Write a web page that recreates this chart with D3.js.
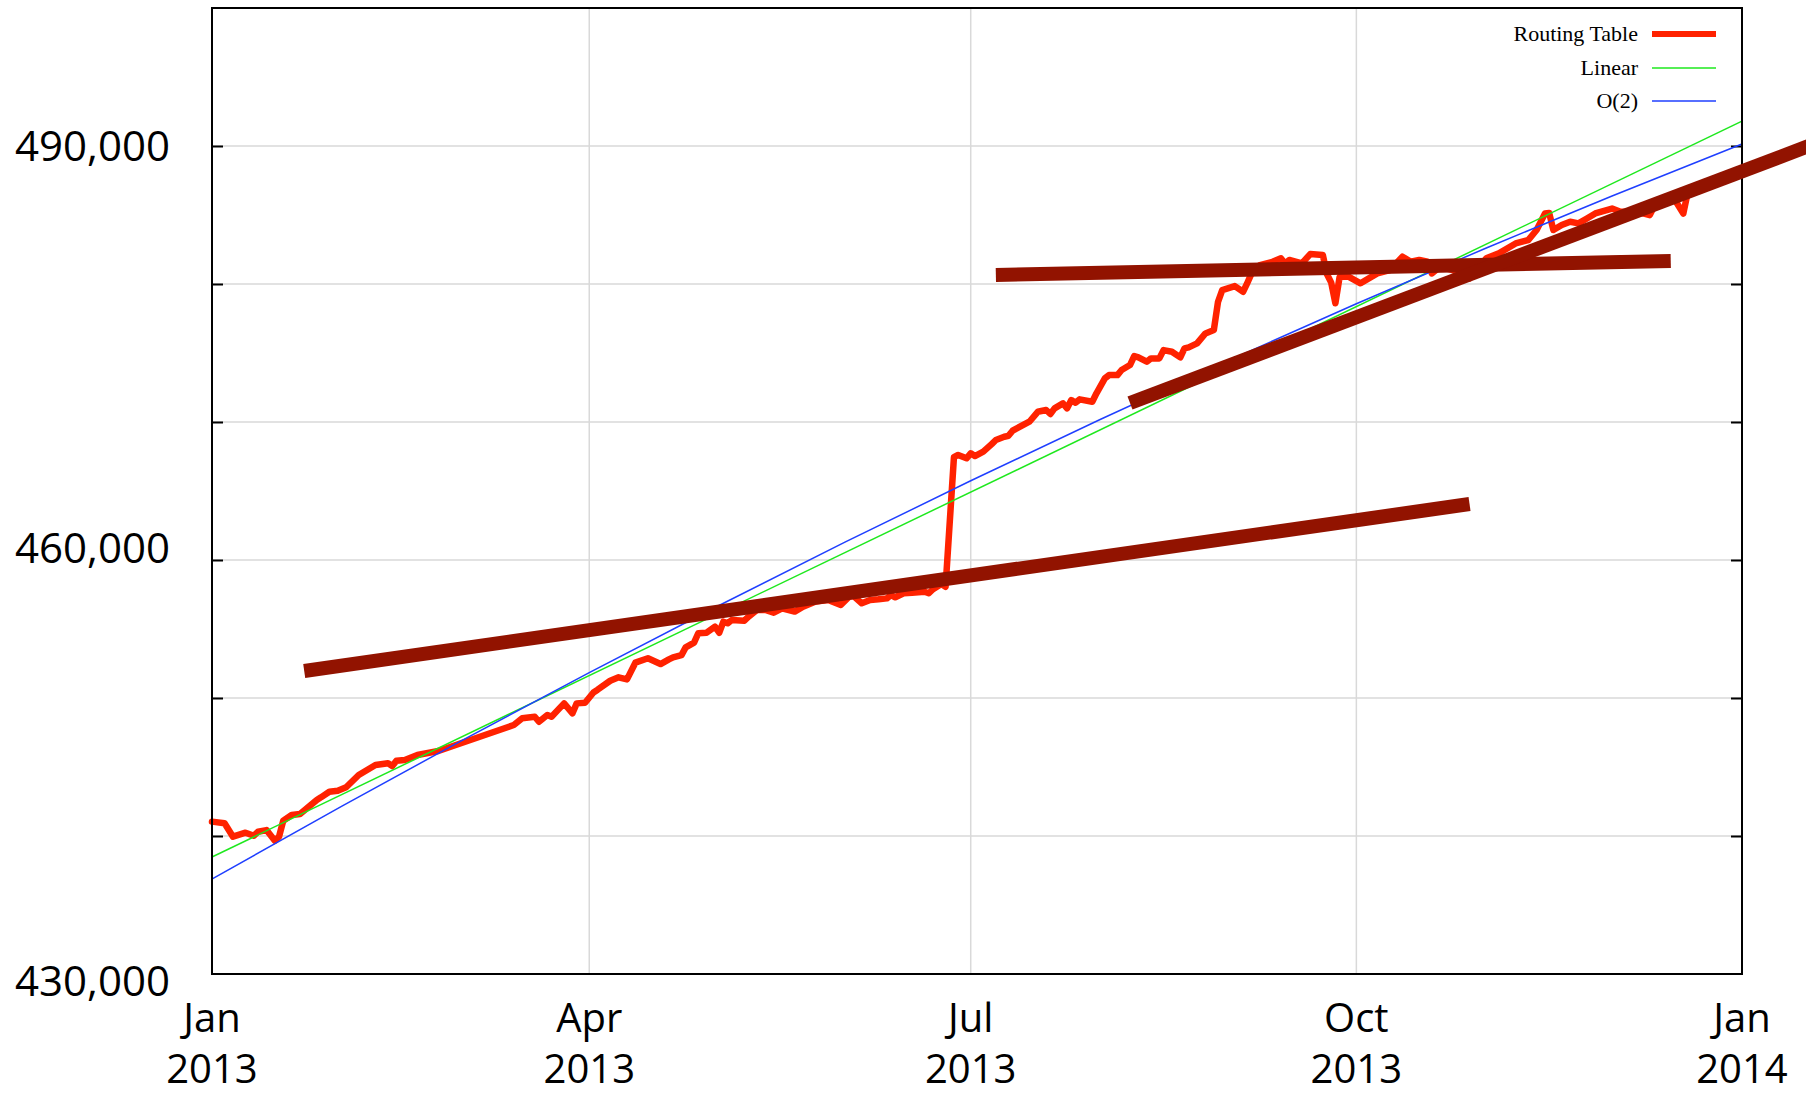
<!DOCTYPE html>
<html><head><meta charset="utf-8">
<script src="https://cdn.jsdelivr.net/npm/d3@7"></script>
<style>body{margin:0;background:#fff}svg{display:block}</style>
</head><body>
<svg id="chart" width="1806" height="1095"></svg>
<script>
// ---------- DATA ----------
const routingDates = ["2013-01-01","2013-01-04","2013-01-06","2013-01-09","2013-01-11","2013-01-12","2013-01-14","2013-01-16","2013-01-17","2013-01-18","2013-01-20","2013-01-22","2013-01-26","2013-01-27","2013-01-29","2013-01-31","2013-02-02","2013-02-05","2013-02-07","2013-02-09","2013-02-12","2013-02-13","2013-02-14","2013-02-16","2013-02-19","2013-02-24","2013-03-14","2013-03-16","2013-03-19","2013-03-20","2013-03-22","2013-03-23","2013-03-26","2013-03-28","2013-03-29","2013-03-31","2013-04-02","2013-04-03","2013-04-06","2013-04-08","2013-04-10","2013-04-12","2013-04-15","2013-04-18","2013-04-20","2013-04-21","2013-04-23","2013-04-24","2013-04-26","2013-04-27","2013-04-29","2013-05-01","2013-05-02","2013-05-03","2013-05-04","2013-05-05","2013-05-08","2013-05-09","2013-05-11","2013-05-13","2013-05-15","2013-05-17","2013-05-20","2013-05-22","2013-05-25","2013-05-28","2013-05-31","2013-06-02","2013-06-03","2013-06-05","2013-06-07","2013-06-09","2013-06-11","2013-06-12","2013-06-13","2013-06-15","2013-06-17","2013-06-20","2013-06-21","2013-06-22","2013-06-24","2013-06-25","2013-06-27","2013-06-28","2013-06-30","2013-07-01","2013-07-02","2013-07-04","2013-07-06","2013-07-07","2013-07-09","2013-07-10","2013-07-11","2013-07-12","2013-07-15","2013-07-17","2013-07-19","2013-07-20","2013-07-21","2013-07-23","2013-07-24","2013-07-25","2013-07-26","2013-07-27","2013-07-30","2013-07-31","2013-08-02","2013-08-03","2013-08-05","2013-08-06","2013-08-08","2013-08-09","2013-08-10","2013-08-12","2013-08-13","2013-08-15","2013-08-16","2013-08-18","2013-08-20","2013-08-21","2013-08-22","2013-08-24","2013-08-26","2013-08-28","2013-08-29","2013-08-30","2013-09-02","2013-09-04","2013-09-05","2013-09-06","2013-09-08","2013-09-11","2013-09-13","2013-09-14","2013-09-15","2013-09-18","2013-09-20","2013-09-23","2013-09-24","2013-09-25","2013-09-26","2013-09-27","2013-09-29","2013-10-02","2013-10-06","2013-10-09","2013-10-12","2013-10-14","2013-10-16","2013-10-18","2013-10-19","2013-10-21","2013-10-24","2013-10-28","2013-11-01","2013-11-04","2013-11-08","2013-11-11","2013-11-13","2013-11-15","2013-11-16","2013-11-17","2013-11-19","2013-11-21","2013-11-23","2013-11-25","2013-11-27","2013-12-01","2013-12-03","2013-12-07","2013-12-10","2013-12-11","2013-12-13","2013-12-16","2013-12-18","2013-12-19","2013-12-21","2013-12-24","2013-12-27","2013-12-29","2013-12-31"];
const routingValues = [441040,440920,439950,440240,440020,440310,440430,439660,439950,441110,441520,441590,442610,442800,443210,443280,443530,444420,444780,445140,445270,445070,445460,445510,445870,446160,448040,448530,448640,448280,448770,448640,449610,448890,449610,449660,450400,450600,451250,451500,451350,452560,452880,452460,452800,452950,453110,453670,454010,454690,454730,455170,454730,455530,455410,455650,455600,455890,456380,456380,456180,456500,456260,456620,457000,457100,456740,457340,457400,456860,457100,457150,457220,457460,457300,457590,457630,457700,457590,457880,458260,458060,467450,467610,467370,467730,467530,467850,468400,468700,468930,469000,469370,469540,470020,470740,470870,470580,470990,471350,470990,471590,471400,471640,471470,472080,473160,473400,473400,473770,474130,474780,474680,474370,474610,474610,475210,475090,474680,475340,475410,475700,476420,476660,478710,479560,479850,479440,480090,480770,481370,481610,481860,481490,481740,481490,482170,482100,480700,480100,478600,480500,480550,480050,480770,481010,481980,481610,481740,481610,480770,481250,481000,480410,481860,482220,482940,483180,483910,485110,485150,483910,484270,484510,484390,484750,485110,485470,485230,485230,484990,485590,485830,486080,485110,486550,486670,487100,487500,487800,488300];

const linearDates = ["2013-01-01","2014-01-01"];
const linearValues = [438480, 491800];

const quadDates = ["2013-01-01","2013-02-01","2013-03-01","2013-04-01","2013-05-01","2013-06-01","2013-07-01","2013-08-01","2013-09-01","2013-10-01","2013-11-01","2013-12-01","2014-01-01"];
const quadValues = [436880,442170,446820,451840,456560,461290,465740,470200,474520,478570,482610,486380,490150];

// hand-drawn trend strokes: start/end date and value
const trendStartDates = ["2013-01-23","2013-07-07","2013-08-08"];
const trendStartValues = [451960, 480650, 471380];
const trendEndDates = ["2013-10-28","2013-12-15","2014-01-20"];
const trendEndValues = [464060, 481670, 490350];

const yGridValues = [440000,450000,460000,470000,480000,490000];
const yLabelValues = [430000,460000,490000];
const xTickDates = ["2013-01-01","2013-04-01","2013-07-01","2013-10-01","2014-01-01"];
const xTickMonths = ["Jan","Apr","Jul","Oct","Jan"];
const xTickYears = ["2013","2013","2013","2013","2014"];
const legendNames = ["Routing Table","Linear","O(2)"];

// ---------- CHART ----------
const parse = d3.timeParse("%Y-%m-%d");
const svg = d3.select("#chart");
const L = 212, R = 1742, T = 8, B = 974;
const x = d3.scaleTime().domain([parse("2013-01-01"), parse("2014-01-01")]).range([L, R]);
const y = d3.scaleLinear().domain([430000, 500000]).range([B, T]);

const colors = {red:"#ff2200", green:"#1ee81e", blue:"#1f3fff", brown:"#921300", grid:"#d9d9d9"};

svg.append("rect").attr("width",1806).attr("height",1095).attr("fill","#fff");

// grid
const g = svg.append("g");
g.selectAll("line.hg").data(yGridValues).enter().append("line")
  .attr("x1",L).attr("x2",R).attr("y1",d=>y(d)).attr("y2",d=>y(d))
  .attr("stroke",colors.grid).attr("stroke-width",1.5);
g.selectAll("line.vg").data(xTickDates.slice(1,-1)).enter().append("line")
  .attr("x1",d=>x(parse(d))).attr("x2",d=>x(parse(d))).attr("y1",T).attr("y2",B)
  .attr("stroke",colors.grid).attr("stroke-width",1.5);

// axes ticks (inward)
const axL = svg.append("g").attr("transform",`translate(${L},0)`)
  .call(d3.axisRight(y).tickValues(yGridValues).tickSize(11).tickFormat(""));
const axR = svg.append("g").attr("transform",`translate(${R},0)`)
  .call(d3.axisLeft(y).tickValues(yGridValues).tickSize(11).tickFormat(""));
[axL, axR].forEach(a => { a.select(".domain").remove(); a.selectAll("line").attr("stroke","#000").attr("stroke-width",2); });

// series
const routing = routingDates.map((d,i)=>({x:parse(d), y:routingValues[i]}));
const linear = linearDates.map((d,i)=>({x:parse(d), y:linearValues[i]}));
const quad = quadDates.map((d,i)=>({x:parse(d), y:quadValues[i]}));
const line = d3.line().x(d=>x(d.x)).y(d=>y(d.y));

svg.append("path").datum(routing).attr("d",line).attr("fill","none")
  .attr("stroke",colors.red).attr("stroke-width",6.5).attr("stroke-linejoin","round").attr("stroke-linecap","round");
svg.append("path").datum(linear).attr("d",line).attr("fill","none")
  .attr("stroke",colors.green).attr("stroke-width",1.5);
svg.append("path").datum(quad).attr("d",line.curve(d3.curveMonotoneX)).attr("fill","none")
  .attr("stroke",colors.blue).attr("stroke-width",1.5);

// frame
svg.append("rect").attr("x",L).attr("y",T).attr("width",R-L).attr("height",B-T)
  .attr("fill","none").attr("stroke","#000").attr("stroke-width",2);

// trend strokes
svg.selectAll("line.trend").data(trendStartDates).enter().append("line")
  .attr("x1",(d,i)=>x(parse(d))).attr("y1",(d,i)=>y(trendStartValues[i]))
  .attr("x2",(d,i)=>x(parse(trendEndDates[i]))).attr("y2",(d,i)=>y(trendEndValues[i]))
  .attr("stroke",colors.brown).attr("stroke-width",14).attr("stroke-linecap","butt");

// y labels
const yNudge = [7, -12, 0];
svg.selectAll("text.yl").data(yLabelValues).enter().append("text")
  .attr("x",170).attr("y",(d,i)=>y(d)+yNudge[i]).attr("dy","0.35em")
  .attr("text-anchor","end").attr("font-family","'Open Sans', sans-serif").attr("font-size",42)
  .attr("fill","#000").text(d=>d3.format(",")(d));

// x labels
const xl = svg.selectAll("g.xl").data(xTickDates).enter().append("g");
xl.append("text").attr("x",d=>x(parse(d))).attr("y",1032).attr("text-anchor","middle")
  .attr("font-family","'Open Sans', sans-serif").attr("font-size",40).text((d,i)=>xTickMonths[i]);
xl.append("text").attr("x",d=>x(parse(d))).attr("y",1083).attr("text-anchor","middle")
  .attr("font-family","'Open Sans', sans-serif").attr("font-size",40).text((d,i)=>xTickYears[i]);

// legend
const legColors = [colors.red, colors.green, colors.blue];
const legWidths = [6, 1.5, 1.5];
const legY = [34, 68, 101];
legendNames.forEach((n,i)=>{
  svg.append("text").attr("x",1638).attr("y",legY[i]+7).attr("text-anchor","end")
    .attr("font-family","'Liberation Serif', 'Times New Roman', serif").attr("font-size",22).text(n);
  svg.append("line").attr("x1",1652).attr("x2",1716).attr("y1",legY[i]).attr("y2",legY[i])
    .attr("stroke",legColors[i]).attr("stroke-width",legWidths[i]);
});
</script>
</body></html>
